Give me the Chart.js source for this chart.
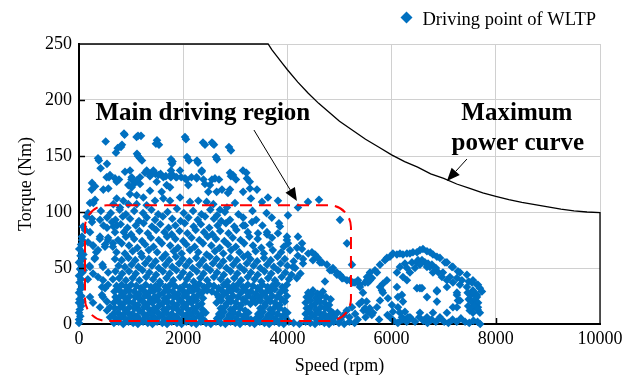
<!DOCTYPE html>
<html>
<head>
<meta charset="utf-8">
<script src="https://cdn.jsdelivr.net/npm/chart.js@4.4.1/dist/chart.umd.min.js"></script>
<style>
  html, body { margin: 0; padding: 0; background: #fff; }
  #wrap { width: 636px; height: 381px; }
</style>
</head>
<body>
<div id="wrap"><canvas id="wltpChart" width="636" height="381"></canvas></div>
<script>
// axis ticks
const speedTicks = [0, 2000, 4000, 6000, 8000, 10000];
const torqueTicks = [0, 50, 100, 150, 200, 250];

// maximum power envelope (rpm / Nm)
const maxPowerSpeed  = [0, 3630, 3700, 3800, 3900, 4000, 4200, 4400, 4600, 4800, 5000, 5250, 5500, 5750, 6000, 6250, 6500, 6750, 7000, 7250, 7500, 7750, 8000, 8250, 8500, 8750, 9000, 9250, 9500, 9750, 10000, 10000];
const maxPowerTorque = [250, 250, 245, 239, 233, 227, 216, 206, 197, 189, 181, 173, 165, 158, 151, 145, 140, 134, 130, 125, 121, 117, 114, 111, 108.5, 106.5, 104.5, 102.5, 101, 100, 99.5, 0];

// WLTP driving points [rpm, Nm]
const idlePts = [
  [0,1],[0,4],[25,7],[0,10],[15,13],[40,16],[0,19],[10,22],[45,25],[0,28],[30,31],[55,34],[10,37],[40,40],[0,43],
  [65,46],[20,49],[50,52],[0,55],[75,58],[30,61],[60,64],[5,67],[40,71],[60,75],[58,78],[77,87],[115,84],[147,96],
  [85,62],[90,48],[60,20],[170,40],[211,108],[173,99],[250,91],[211,82],[173,73],[269,70],[365,66],[307,59],[211,51],
  [269,45],[365,42],[461,39],[557,35],[499,32],[441,26],[537,20],[595,15],[403,78],[499,69],[557,75],[652,72],[537,86],
  [691,82],[633,91],[729,88],[403,93],[461,51],[441,33],[461,24],[403,15],[211,24],[269,19],[537,12],[595,6]
];

const topPts = [
  [512,163],[875,169],[806,158],[742,157],[710,153],[1105,167],[1190,168],[1497,164],[1535,160],[2053,165],[2418,160],
  [2591,160],[2917,155],[1132,150],[1209,146],[382,146],[415,139],[1796,145],[1766,137],[2111,146],[2284,144],[2648,147],
  [2357,137],[576,131],[768,129],[1007,129],[1073,126],[1171,131],[1267,135],[1362,132],[1468,134],[1566,134],[1666,132],
  [1764,131],[1862,131],[1961,131],[2059,129],[2159,131],[2257,131],[2389,129],[2552,129],[2687,129],[2917,132],[3013,129],
  [3212,135],[3278,127],[250,126],[307,123],[2878,158],[2380,162],[2552,162],[2629,149],[2898,135],[2955,133],[3147,137],
  [3224,130],[3281,121],[3416,120],[2744,120],[2898,120],[2859,117],[2994,108],[2840,104],[2706,102],[864,170],[1132,168],
  [825,160],[1477,161],[2034,167],[2572,161],[365,148],[537,143],[1113,152],[1170,148],[1766,147],[1785,143],[2073,149],
  [2265,146],[531,131],[595,133],[691,130],[723,127],[563,121],[467,120],[243,120],[307,111],[275,108],[883,136],[979,137],
  [1011,131],[947,124],[1011,122],[1107,128],[1171,125],[1299,137],[1363,134],[1427,137],[1523,133],[1491,127],[1619,131],
  [1683,124],[1779,134],[1875,131],[1939,137],[2034,130],[2098,124],[2259,130],[2355,136],[2418,125],[2514,124],[2610,130],
  [2642,118],[2482,118],[1747,122],[1587,118],[1363,119],[1235,113],[1107,115],[979,116],[851,110],[723,112],[659,107],
  [787,104],[947,107],[1107,107],[1299,106],[1459,110],[1619,112],[1747,110],[1939,113],[2130,109],[2290,110],[2450,109],
  [2578,107],[3512,109],[3627,113],[3819,110],[4011,97],[4203,104],[4395,109],[4606,111],[3300,112],[3150,118]
];

const upperBand = [
  [420,101],[610,99],[780,102],[900,98],[1060,101],[1230,99],[1390,102],[1520,98],[1700,100],[1880,103],[2010,99],
  [2190,101],[2350,98],[2520,102],[2650,97],[2800,100],[3060,98],[3330,101],[3600,99],
  [250,94],[540,95],[700,93],[840,96],[980,94],[1150,92],[1300,95],[1460,93],[1610,96],[1790,94],[1950,92],[2100,95],
  [2280,93],[2420,96],[2590,94],[2730,92],[3150,95],[3400,93],[3700,95],
  [470,88],[660,87],[800,89],[930,86],[1090,88],[1240,90],[1400,87],[1560,89],[1720,86],[1850,88],[2030,90],[2200,87],
  [2340,89],[2500,86],[2660,88],[2820,90],[2980,87],[3520,88],
  [860,82],[1000,80],[1160,83],[1320,81],[1480,84],[1640,82],[1780,80],[1930,83],[2080,81],[2240,84],[2400,82],[2560,80],
  [2710,83],[2870,81],[3020,84],[3240,82],[3610,80],
  [5009,93],[3857,87],[3838,90],[3186,88],[3320,91],[2898,93],[3147,88],[3435,81],[3608,82],[3704,77],[3819,81],[3992,78],
  [4011,72],[4203,78],[4280,72],[4184,68],[4050,66]
];

const midBand = [
  [400,76],[560,77],[750,75],[900,78],[1060,76],[1210,74],[1380,77],[1530,75],[1690,78],[1850,76],[2000,74],[2160,77],
  [2310,75],[2470,78],[2630,76],[2790,74],[2950,77],[3100,75],[3270,78],[3430,76],[3990,75],
  [270,70],[500,71],[650,69],[820,72],[960,70],[1120,68],[1270,71],[1430,69],[1590,72],[1750,70],[1900,68],[2060,71],
  [2220,69],[2380,72],[2540,70],[2700,68],[2860,71],[3010,69],[3170,72],[3340,70],[3500,68],[3660,71],[3930,69],[4280,67],
  [330,64],[720,64],[880,63],[1030,65],[1190,63],[1340,66],[1500,64],[1660,62],[1820,65],[1970,63],[2130,66],[2290,64],
  [2450,62],[2610,65],[2770,63],[2920,66],[3080,64],[3240,62],[3390,65],[3550,63],[3720,66],[3880,64],[4200,61],[4400,63],
  [300,58],[690,58],[820,57],[950,59],[1080,57],[1210,60],[1340,58],[1470,56],[1600,59],[1730,57],[1860,60],[1990,58],
  [2120,56],[2250,59],[2380,57],[2510,60],[2640,58],[2770,56],[2900,59],[3030,57],[3160,60],[3290,58],[3420,56],[3550,59],
  [3680,57],[3810,60],[3950,58],[4120,56],[4300,58],
  [200,52],[450,53],[760,52],[880,51],[1010,53],[1140,51],[1270,54],[1400,52],[1530,50],[1660,53],[1790,51],[1920,54],
  [2050,52],[2180,50],[2310,53],[2440,51],[2570,54],[2700,52],[2830,50],[2960,53],[3090,51],[3220,54],[3350,52],[3480,50],
  [3610,53],[3740,51],[3870,54],[4000,52],[4150,50],
  [560,46],[700,47],[830,45],[960,47],[1090,45],[1220,48],[1350,46],[1480,44],[1610,47],[1740,45],[1870,48],[2000,46],
  [2130,44],[2260,47],[2390,45],[2520,48],[2650,46],[2780,44],[2910,47],[3040,45],[3170,48],[3300,46],[3430,44],[3560,47],
  [3690,45],[3820,48],[3960,46],[4080,44],[4250,45],
  [650,40],[770,41],[900,39],[1030,41],[1160,39],[1290,42],[1420,40],[1550,38],[1680,41],[1810,39],[1940,42],[2070,40],
  [2200,38],[2330,41],[2460,39],[2590,42],[2720,40],[2850,38],[2980,41],[3110,39],[3240,42],[3370,40],[3500,38],[3630,41],
  [3760,39],[3890,42],[4030,40],[4180,41]
];

const lowBand = [
  [720,34],[820,35],[910,33],[1000,35],[1100,34],[1190,32],[1280,35],[1380,33],[1470,34],[1560,36],[1660,33],[1750,35],
  [1840,34],[1940,32],[2030,35],[2120,33],[2220,34],[2310,36],[2400,33],[2500,35],[2590,34],[2680,32],[2780,35],[2870,33],
  [2960,34],[3060,36],[3150,33],[3240,35],[3340,34],[3430,32],[3520,35],[3620,33],[3710,34],[3800,36],[3900,33],[3990,35],
  [680,29],[780,30],[870,28],[960,30],[1060,29],[1150,27],[1240,30],[1340,28],[1430,29],[1520,31],[1620,28],[1710,30],
  [1800,29],[1900,27],[1990,30],[2080,28],[2180,29],[2270,31],[2360,28],[2460,30],[2550,29],[2640,27],[2740,30],[2830,28],
  [2920,29],[3020,31],[3110,28],[3200,30],[3300,29],[3390,27],[3480,30],[3580,28],[3670,29],[3760,31],[3860,28],[3950,30],
  [4400,28],[4490,30],[4580,27],[4680,29],
  [700,24],[800,25],[890,23],[980,25],[1080,24],[1170,22],[1260,25],[1360,23],[1450,24],[1540,26],[1640,23],[1730,25],
  [1820,24],[1920,22],[2010,25],[2100,23],[2200,24],[2290,26],[2380,23],[2680,24],[2770,26],[2870,23],[2960,25],[3050,24],
  [3150,22],[3240,25],[3330,23],[3430,24],[3520,26],[3610,23],[3710,25],[3800,24],[3890,22],[3990,25],[4370,24],[4460,26],
  [4550,23],[4650,25],[4740,24],[4830,22],
  [670,19],[760,20],[850,18],[950,20],[1040,19],[1130,17],[1230,20],[1320,18],[1410,19],[1510,21],[1600,18],[1690,20],
  [1790,19],[1880,17],[1970,20],[2070,18],[2160,19],[2250,21],[2350,18],[2640,19],[2730,21],[2830,18],[2920,20],[3010,19],
  [3110,17],[3200,20],[3290,18],[3390,19],[3480,21],[3570,18],[3670,20],[3760,19],[3850,17],[3950,20],[4350,19],[4440,21],
  [4530,18],[4620,20],[4710,19],[4800,17],
  [690,14],[790,15],[880,13],[970,15],[1070,14],[1160,12],[1250,15],[1350,13],[1440,14],[1530,16],[1630,13],[1720,15],
  [1810,14],[1910,12],[2000,15],[2090,13],[2190,14],[2280,16],[2370,13],[2720,14],[2810,16],[2910,13],[3000,15],[3090,14],
  [3190,12],[3480,14],[3570,16],[3670,13],[3760,15],[3850,14],[3950,12],[4370,14],[4460,16],[4550,13],[4640,15],[4730,14],
  [4820,12],
  [660,9],[750,10],[840,8],[940,10],[1030,9],[1120,7],[1220,10],[1310,8],[1400,9],[1500,11],[1590,8],[1680,10],
  [1780,9],[1870,7],[1960,10],[2060,8],[2150,9],[2240,11],[2340,8],[2430,10],[2690,9],[2780,11],[2880,8],[2970,10],
  [3060,9],[3160,7],[3250,10],[3440,9],[3530,11],[3630,8],[3720,10],[3810,9],[3910,7],[4000,10],[4350,9],[4430,11],
  [4520,8],[4610,10],[4700,9],[4790,7],[4870,10],
  [700,5],[800,6],[900,4],[990,6],[1080,5],[1180,3],[1270,6],[1370,4],[1460,5],[1550,7],[1650,4],[1740,6],
  [1830,5],[1930,3],[2020,6],[2110,4],[2210,5],[2300,7],[2390,4],[2650,5],[2740,7],[2840,4],[2930,6],[3020,5],
  [3120,3],[3210,6],[3300,4],[3400,5],[3490,7],[3580,4],[3680,6],[3770,5],[3860,3],[3960,6],[4380,5],[4470,7],
  [4560,4],[4660,6],[4750,5],[4840,3],
  [670,1],[760,2],[850,0],[950,2],[1040,1],[1130,0],[1230,2],[1320,1],[1410,0],[1500,2],[1600,1],[1690,0],
  [1780,2],[1880,1],[1970,0],[2060,2],[2160,1],[2250,0],[2340,2],[2440,1],[2530,0],[2630,2],[2720,1],[2810,0],
  [2910,2],[3000,1],[3090,0],[3190,2],[3280,1],[3370,0],[3470,2],[3560,1],[3650,0],[3750,2],[3840,1],[3930,0],
  [4030,2],[4120,1],[4230,0],[4350,2],[4440,1],[4530,0],[4620,2],[4710,1],[4800,0],[4890,2],[4990,1],[5090,0],
  [5190,2],[5290,1]
];

const highSpeedPts = [
  [4107,51],[4299,54],[4490,57],[4625,55],[4759,53],[4874,50],[5009,44],[5143,39],[5258,37],[5393,35],[5527,39],[5585,46],
  [5681,48],[5777,53],[5910,59],[4817,48],[4951,46],[5066,41],[5201,39],[5297,37],[5489,37],[5546,37],[5623,41],[5719,46],
  [5143,72],[5239,53],[4471,64],[4529,62],[4587,59],[4663,55],[4855,48],[4951,44],[5047,41],[4721,38],
  [5872,57],[5968,60],[6025,63],[6102,62],[6160,63],[6218,62],[6294,63],[6352,63],[6410,64],[6487,64],[6544,66],[6602,67],
  [6679,65],[6740,64],[6794,62],[6870,60],[6928,59],[7024,55],[7062,55],[7158,51],[7177,51],[7273,47],[7312,46],[7446,44],
  [7561,39],[7657,35],[7734,29],
  [6102,46],[6160,51],[6218,42],[6256,54],[6294,50],[6390,55],[6487,55],[6506,57],[6583,57],[6640,55],[6700,54],[6736,51],
  [6774,53],[6850,50],[6900,46],[6966,42],[6985,46],[7062,39],[7120,42],[7177,37],[7254,41],[7312,35],[7350,39],[7446,33],
  [7480,38],[7542,37],[7561,30],[7638,35],[7638,24],[7657,15],[7695,10],[7695,32],
  [6102,33],[6122,24],[6122,15],[6198,6],[6198,26],[6218,20],[6256,11],[6352,6],[6294,39],[6352,46],[6448,50],[6544,53],
  [6679,51],[6794,46],[6487,32],[6583,32],[6679,24],[6870,20],[6870,29],[7254,26],[7273,21],[7254,15],[6544,32],[6870,30],
  [7062,33],[7254,28],[7312,21],[7177,15],[7062,10],[6928,6],[6794,10],[6679,6],[6544,10],[6160,10],[6218,4],[6313,6],
  [7460,28],[7520,26],[7580,28],[7640,26],[7480,22],[7540,20],[7600,22],[7660,19],[7470,16],[7530,14],[7590,16],[7650,13],
  [7500,12],[7560,10],
  [6040,3],[6120,1],[6200,4],[6290,2],[6370,5],[6450,2],[6530,6],[6610,3],[6690,1],[6770,4],[6850,2],[6930,5],
  [7010,2],[7090,1],[7170,4],[7250,2],[7330,5],[7410,2],[7490,1],[7570,3],[7650,2],[7700,0],
  [4900,6],[4960,10],[5020,4],[5080,8],[5140,12],[5190,6],[5240,15],[5300,9],[5350,4],[5380,18],[5460,12],[5500,6],
  [5520,20],[5580,14],[5620,8],[5760,4],[5920,8],[5968,6],
  [5393,33],[5450,28],[5431,20],[5489,14],[5546,11],[5642,10],[5719,15],[5777,21],[5815,30],[5834,36],[5910,39],[5585,39],
  [5527,42],[5354,39],[5777,33],[5834,28],[5930,23],[6006,17],[6025,11]
];

const pointColor = '#0070C0';
const serif = "'Liberation Serif', 'Times New Roman', serif";

const wltpData = [].concat(idlePts, topPts, upperBand, midBand, lowBand, highSpeedPts).map(p => ({ x: p[0], y: p[1] }));
const curveData = maxPowerSpeed.map((s, i) => ({ x: s, y: maxPowerTorque[i] }));

// red region box, in rpm / Nm
const mainRegion = { left: 115, right: 5220, top: 106, bottom: 2.7 };

function arrow(ctx, x1, y1, x2, y2) {
    const ang = Math.atan2(y2 - y1, x2 - x1);
    const len = 13, half = 5.5;
    const bx = x2 - len * Math.cos(ang), by = y2 - len * Math.sin(ang);
    ctx.beginPath();
    ctx.moveTo(x1, y1);
    ctx.lineTo(bx, by);
    ctx.stroke();
    ctx.beginPath();
    ctx.moveTo(x2, y2);
    ctx.lineTo(bx + half * Math.sin(ang), by - half * Math.cos(ang));
    ctx.lineTo(bx - half * Math.sin(ang), by + half * Math.cos(ang));
    ctx.closePath();
    ctx.fill();
}

const overlay = {
    id: 'overlay',
    afterDatasetsDraw(chart) {
        const { ctx, chartArea: a, scales: { x, y } } = chart;
        ctx.save();

        // tick marks pointing into the plot
        ctx.strokeStyle = '#000';
        ctx.lineWidth = 1.5;
        torqueTicks.slice(1, -1).forEach(t => {
            const py = Math.round(y.getPixelForValue(t)) + 0.5;
            ctx.beginPath(); ctx.moveTo(a.left, py); ctx.lineTo(a.left + 6, py); ctx.stroke();
        });
        speedTicks.slice(1, -1).forEach(s => {
            const px = Math.round(x.getPixelForValue(s)) + 0.5;
            ctx.beginPath(); ctx.moveTo(px, a.bottom); ctx.lineTo(px, a.bottom - 6); ctx.stroke();
        });

        // main driving region
        const l = x.getPixelForValue(mainRegion.left), r = x.getPixelForValue(mainRegion.right);
        const t = y.getPixelForValue(mainRegion.top), b = y.getPixelForValue(mainRegion.bottom);
        ctx.strokeStyle = '#ff0000';
        ctx.lineWidth = 2;
        ctx.setLineDash([12, 7]);
        ctx.beginPath();
        ctx.roundRect(l, t, r - l, b - t, 22);
        ctx.stroke();
        ctx.setLineDash([]);

        // labels and arrows
        ctx.fillStyle = '#000';
        ctx.strokeStyle = '#000';
        ctx.lineWidth = 1;
        ctx.font = 'bold 25px ' + serif;
        ctx.textBaseline = 'alphabetic';
        ctx.textAlign = 'left';
        ctx.fillText('Main driving region', x.getPixelForValue(315), y.getPixelForValue(181.7));
        ctx.textAlign = 'center';
        ctx.fillText('Maximum', x.getPixelForValue(8405), y.getPixelForValue(181.7));
        ctx.fillText('power curve', x.getPixelForValue(8424), y.getPixelForValue(155.4));

        arrow(ctx, x.getPixelForValue(3358), y.getPixelForValue(173.2), x.getPixelForValue(4183), y.getPixelForValue(109.8));
        arrow(ctx, x.getPixelForValue(7446), y.getPixelForValue(147.3), x.getPixelForValue(7062), y.getPixelForValue(127.7));
        ctx.restore();
    },
    afterDraw(chart) {
        // legend
        const ctx = chart.ctx;
        ctx.save();
        ctx.fillStyle = pointColor;
        ctx.beginPath();
        ctx.moveTo(406.5, 11.5); ctx.lineTo(412.5, 17.5); ctx.lineTo(406.5, 23.5); ctx.lineTo(400.5, 17.5);
        ctx.closePath();
        ctx.fill();
        ctx.fillStyle = '#000';
        ctx.font = '18.5px ' + serif;
        ctx.textBaseline = 'alphabetic';
        ctx.fillText(chart.data.datasets[0].label, 422.5, 25);
        ctx.restore();
    }
};

const tickFont = { family: serif, size: 18 };

new Chart(document.getElementById('wltpChart'), {
    type: 'scatter',
    data: {
        datasets: [{
            label: 'Driving point of WLTP',
            data: wltpData,
            pointStyle: 'rectRot',
            pointRadius: 4.3,
            pointHoverRadius: 4.3,
            backgroundColor: pointColor,
            borderWidth: 0,
            clip: false
        }, {
            label: 'Maximum power curve',
            data: curveData,
            showLine: true,
            pointRadius: 0,
            borderColor: '#000',
            borderWidth: 1.3,
            tension: 0,
            clip: false
        }]
    },
    options: {
        responsive: false,
        animation: false,
        layout: { padding: { top: 44, right: 36, left: 0, bottom: 0 } },
        plugins: { legend: { display: false }, tooltip: { enabled: false } },
        scales: {
            x: {
                type: 'linear', min: 0, max: 10000,
                afterBuildTicks: s => { s.ticks = speedTicks.map(v => ({ value: v })); },
                afterFit: s => { s.height = 57; },
                grid: { color: '#d0d0d0', lineWidth: 1, drawTicks: false },
                border: { color: '#000', width: 2 },
                ticks: { color: '#000', font: tickFont, padding: 4, maxRotation: 0, autoSkip: false, callback: v => String(v) },
                title: { display: true, text: 'Speed (rpm)', color: '#000', font: tickFont, padding: { top: 0, bottom: 4 } }
            },
            y: {
                type: 'linear', min: 0, max: 250,
                afterBuildTicks: s => { s.ticks = torqueTicks.map(v => ({ value: v })); },
                afterFit: s => { s.width = 79; },
                grid: { color: '#d0d0d0', lineWidth: 1, drawTicks: false },
                border: { color: '#000', width: 2 },
                ticks: { color: '#000', font: tickFont, padding: 7, callback: v => String(v) },
                title: { display: true, text: 'Torque (Nm)', color: '#000', font: tickFont, padding: { top: 15, bottom: 0 } }
            }
        }
    },
    plugins: [overlay]
});
</script>
</body>
</html>
